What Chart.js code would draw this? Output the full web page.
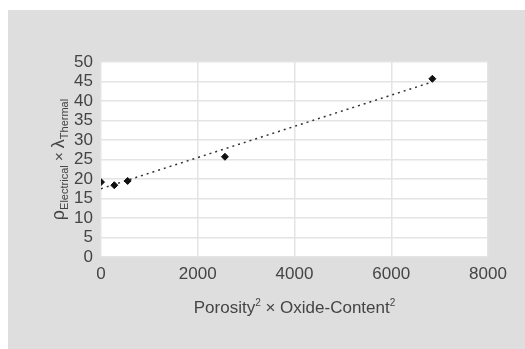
<!DOCTYPE html>
<html>
<head>
<meta charset="utf-8">
<script src="https://cdn.jsdelivr.net/npm/chart.js@4"></script>
<style>
body { margin: 0; background: #fff; }
#box { position: absolute; left: 8px; top: 10px; width: 517px; height: 339px; background: #dedede; }
</style>
</head>
<body>
<div id="box"><canvas id="chart" width="517" height="339"></canvas></div>
<script>
// measured points
var xValues = [0, 275, 551, 2562, 6850];
var yValues = [19.2, 18.4, 19.5, 25.7, 45.7];
// dotted trend line, ends
var trendX = [0, 6850];
var trendY = [17.5, 44.9];

var xTicksMax = 8000;
var yTicksMax = 50;

var FONT = "'Liberation Sans', Arial, sans-serif";
var TEXT = "#444444";

function toPoints(xs, ys)
{
	let pts = [];
	for (let i = 0; i < xs.length; i++)
	{
		pts.push({x: xs[i], y: ys[i]});
	}
	return pts;
}

// white plot area + axis titles with sub/superscripts
var decor = {
	id: "decor",
	beforeDraw: function(chart)
	{
		let ctx = chart.ctx;
		let a = chart.chartArea;
		ctx.save();
		ctx.fillStyle = "#ffffff";
		ctx.fillRect(a.left, a.top, a.right - a.left, a.bottom - a.top);
		ctx.restore();
	},
	afterDraw: function(chart)
	{
		let ctx = chart.ctx;
		let a = chart.chartArea;
		ctx.save();
		ctx.fillStyle = TEXT;
		ctx.textBaseline = "alphabetic";

		// x title
		let big = "17px " + FONT;
		let small = "10px " + FONT;
		let parts = [
			[big, "Porosity", 0],
			[small, "2", -7],
			[big, " \u00d7 Oxide-Content", 0],
			[small, "2", -7]
		];
		let w = 0;
		parts.forEach(function(p) { ctx.font = p[0]; w += ctx.measureText(p[1]).width; });
		let x = (a.left + a.right) / 2 - w / 2;
		let y = 303;
		parts.forEach(function(p)
		{
			ctx.font = p[0];
			ctx.fillText(p[1], x, y + p[2]);
			x += ctx.measureText(p[1]).width;
		});

		// y title, rotated
		let yparts = [
			["18px " + FONT, "\u03c1", 0],
			["11px " + FONT, "Electrical", 4],
			["15px " + FONT, " \u00d7 ", 0],
			["18px " + FONT, "\u03bb", 0],
			["11px " + FONT, "Thermal", 4]
		];
		w = 0;
		yparts.forEach(function(p) { ctx.font = p[0]; w += ctx.measureText(p[1]).width; });
		ctx.translate(51, (a.top + a.bottom) / 2);
		ctx.rotate(-Math.PI / 2);
		x = -w / 2;
		yparts.forEach(function(p)
		{
			ctx.font = p[0];
			ctx.fillText(p[1], x, 5 + p[2]);
			x += ctx.measureText(p[1]).width;
		});
		ctx.restore();
	}
};

new Chart("chart", {
	type: "scatter",
	data: {
		datasets: [
			{
				label: "data",
				data: toPoints(xValues, yValues),
				pointStyle: "rectRot",
				pointRadius: 3.5,
				backgroundColor: "#111",
				borderColor: "#111",
				borderWidth: 1
			},
			{
				label: "trend",
				type: "line",
				data: toPoints(trendX, trendY),
				borderColor: "#333",
				borderWidth: 1.5,
				borderDash: [2, 4],
				pointRadius: 0,
				fill: false
			}
		]
	},
	options: {
		responsive: false,
		animation: false,
		layout: { padding: { top: 52, right: 37, left: 0, bottom: 0 } },
		plugins: { legend: { display: false }, tooltip: { enabled: false } },
		scales: {
			x: {
				type: "linear",
				min: 0,
				max: xTicksMax,
				afterFit: function(s) { s.height = 92; },
				border: { display: false },
				grid: { color: "#e4e4e4", lineWidth: 1.5, drawTicks: false },
				ticks: {
					stepSize: 2000, padding: 7, color: TEXT, autoSkip: false,
					font: { family: FONT, size: 17 },
					callback: function(v) { return String(v); }
				}
			},
			y: {
				min: 0,
				max: yTicksMax,
				afterFit: function(s) { s.width = 93; },
				border: { display: false },
				grid: { color: "#e4e4e4", lineWidth: 1.5, drawTicks: false },
				ticks: {
					stepSize: 5, padding: 8, color: TEXT, autoSkip: false,
					font: { family: FONT, size: 17 }
				}
			}
		}
	},
	plugins: [decor]
});
</script>
</body>
</html>
